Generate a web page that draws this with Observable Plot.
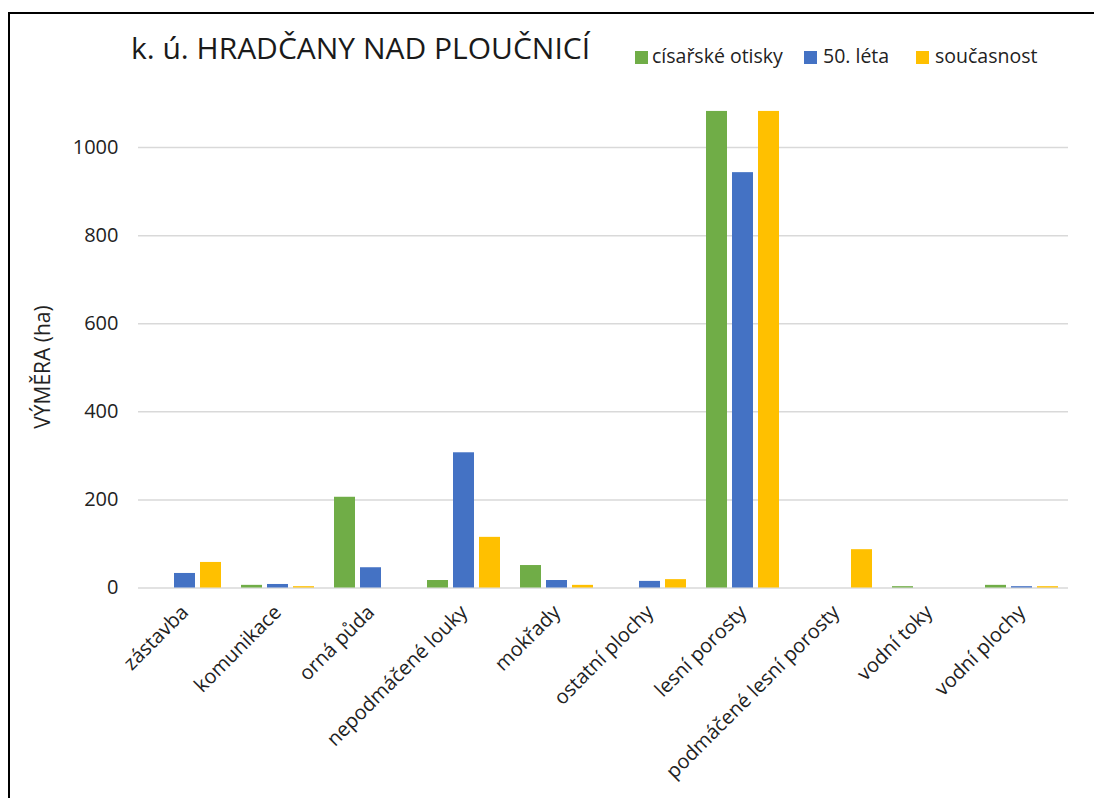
<!DOCTYPE html>
<html><head><meta charset="utf-8">
<script src="https://cdn.jsdelivr.net/npm/d3@7"></script>
<script src="https://cdn.jsdelivr.net/npm/@observablehq/plot@0.6"></script>
<style>
body{margin:0;background:#fff;font-family:"Open Sans",sans-serif;color:#000;}
#wrap{position:relative;width:1094px;height:798px;overflow:hidden;background:#fff;}
#frame{position:absolute;left:8px;top:12px;width:1200px;height:900px;border-top:2px solid #000;border-left:2px solid #000;box-sizing:border-box;}
#chart{position:absolute;left:0;top:0;}
#title{position:absolute;left:131px;top:33px;font-size:30px;line-height:30px;white-space:nowrap;color:#1a1a1a;}
.leg{position:absolute;top:46px;font-size:19.5px;line-height:19.5px;white-space:nowrap;color:#222;}
.sw{position:absolute;top:51px;width:13px;height:13px;}
#ylab{position:absolute;left:42px;top:367px;transform:translate(-50%,-50%) rotate(-90deg);font-size:21px;white-space:nowrap;color:#222;}
</style></head>
<body>
<div id="wrap">
  <div id="chart"></div>
  <div id="frame"></div>
  <div id="title"></div>
  <div id="legend"></div>
  <div id="ylab"></div>
</div>
<script>
const titleText = "k. ú. HRADČANY NAD PLOUČNICÍ";
const yLabel = "VÝMĚRA (ha)";
const categories = ["zástavba","komunikace","orná půda","nepodmáčené louky","mokřady","ostatní plochy","lesní porosty","podmáčené lesní porosty","vodní toky","vodní plochy"];
const series = ["císařské otisky","50. léta","současnost"];
const colors = ["#70ad47","#4472c4","#ffc000"];
const cisarske = [0,6,206,17,51,0,1082,0,3,6];
const leta50 = [33,8,46,307,17,15,943,0,0,3];
const soucasnost = [58,3,0,115,6,19,1082,87,0,3];
const yTicks = [0,200,400,600,800,1000];

const values = [cisarske, leta50, soucasnost];
const data = [];
categories.forEach((c,i)=>series.forEach((s,j)=>data.push({cat:c, series:s, value:values[j][i]})));

document.getElementById("title").textContent = titleText;
document.getElementById("ylab").textContent = yLabel;
const legPos = [[635,652],[804,823],[916,935]];
const legend = document.getElementById("legend");
series.forEach((s,j)=>{
  const sw = document.createElement("div"); sw.className="sw"; sw.style.left=legPos[j][0]+"px"; sw.style.background=colors[j]; legend.appendChild(sw);
  const t = document.createElement("div"); t.className="leg"; t.style.left=legPos[j][1]+"px"; t.textContent=s; legend.appendChild(t);
});

const chart = Plot.plot({
  width:1094, height:798,
  marginLeft:135, marginRight:24, marginTop:103, marginBottom:210.5,
  style:{fontFamily:"'Open Sans', sans-serif", color:"#222", background:"transparent"},
  fx:{domain:categories, padding:0, label:null},
  x:{domain:series, axis:null, paddingInner:0.2, paddingOuter:0.34},
  y:{domain:[0,1100], label:null},
  color:{domain:series, range:colors},
  marks:[
    Plot.gridY(yTicks, {stroke:"#d9d9d9", strokeOpacity:1, strokeWidth:1.5}),
    Plot.axisY(yTicks, {tickSize:0, tickPadding:20, fontSize:20, label:null, tickFormat:d=>String(d)}),
    Plot.axisFx({anchor:"bottom", tickRotate:-45, tickSize:0, tickPadding:21, fontSize:20, label:null}),
    Plot.barY(data, {fx:"cat", x:"series", y:"value", fill:"series"})
  ]
});
document.getElementById("chart").appendChild(chart);
</script>
</body></html>
